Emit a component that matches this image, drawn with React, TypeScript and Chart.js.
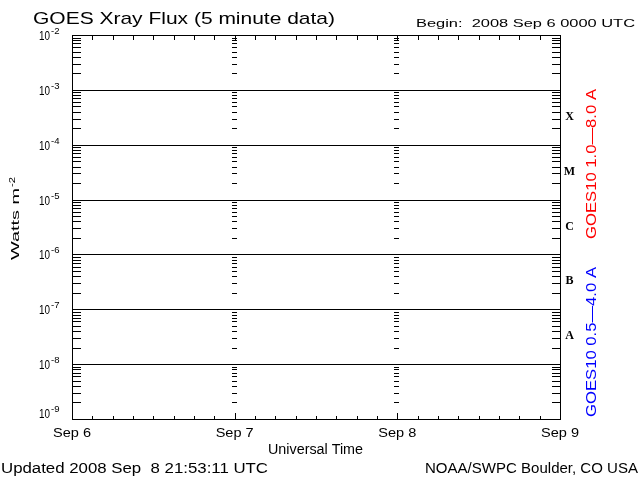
import React, { useEffect, useRef } from "react";
import { Chart, registerables } from "chart.js";

Chart.register(...registerables);

// ---- data ----
const dayLabels = ["Sep 6", "Sep 7", "Sep 8", "Sep 9"];
const dayHours = [0, 24, 48, 72];
const minorHourStep = 3;
const decadeExponents = [-9, -8, -7, -6, -5, -4, -3, -2];
const gridExponents = [-8, -7, -6, -5, -4, -3];
const classLetters = ["A", "B", "C", "M", "X"];
const classExponents = [-7.5, -6.5, -5.5, -4.5, -3.5];
// GOES10 series (no samples visible in the reference for this window)
const goes10Long: { x: number; y: number }[] = [];
const goes10Short: { x: number; y: number }[] = [];

const titleText = "GOES Xray Flux (5 minute data)";
const beginText = "Begin:  2008 Sep 6 0000 UTC";
const xTitleText = "Universal Time";
const updatedText = "Updated 2008 Sep  8 21:53:11 UTC";
const creditText = "NOAA/SWPC Boulder, CO USA";
const longLabel = "GOES10 1.0\u20148.0 A";
const shortLabel = "GOES10 0.5\u20144.0 A";

const FONT = '"Liberation Sans", Arial, sans-serif';

function fitText(
  ctx: CanvasRenderingContext2D,
  text: string,
  x: number,
  y: number,
  size: number,
  width: number,
  align: "left" | "center" | "right",
  color = "#000",
  rotate = false,
  font = FONT,
  weight = ""
) {
  ctx.save();
  ctx.font = `${weight ? weight + " " : ""}${size}px ${font}`;
  ctx.fillStyle = color;
  ctx.textAlign = "left";
  ctx.textBaseline = "alphabetic";
  const w = ctx.measureText(text).width;
  const sx = width > 0 ? width / w : 1;
  ctx.translate(x, y);
  if (rotate) ctx.rotate(-Math.PI / 2);
  ctx.scale(sx, 1);
  const ox = align === "left" ? 0 : align === "center" ? -w / 2 : -w;
  ctx.fillText(text, ox, 0);
  ctx.restore();
}

const framePlugin = {
  id: "goesFrame",
  afterDraw(chart: any) {
    const ctx: CanvasRenderingContext2D = chart.ctx;
    const xs = chart.scales.x;
    const ys = chart.scales.y;
    const { left, right, top, bottom } = chart.chartArea;
    const L = Math.round(left);
    const R = Math.round(right);
    const T = Math.round(top);
    const B = Math.round(bottom);
    ctx.save();
    ctx.fillStyle = "#000";

    // frame
    ctx.fillRect(L, T, R - L + 1, 1);
    ctx.fillRect(L, B, R - L + 1, 1);
    ctx.fillRect(L, T, 1, B - T + 1);
    ctx.fillRect(R, T, 1, B - T + 1);

    // decade grid lines
    gridExponents.forEach((e) => {
      const y = Math.round(ys.getPixelForValue(Math.pow(10, e)));
      ctx.fillRect(L, y, R - L + 1, 1);
    });

    // minor log ticks: left, right, and at interior day boundaries
    const interiorDays = dayHours.slice(1, -1).map((h) => Math.round(xs.getPixelForValue(h)));
    for (let e = -9; e < -2; e++) {
      for (let m = 2; m <= 9; m++) {
        const y = Math.round(ys.getPixelForValue(m * Math.pow(10, e)));
        ctx.fillRect(L + 1, y, 8, 1);
        ctx.fillRect(R - 8, y, 8, 1);
        interiorDays.forEach((x) => ctx.fillRect(x - 3, y, 5, 1));
      }
    }

    // time ticks
    for (let h = minorHourStep; h < 72; h += minorHourStep) {
      const x = Math.round(xs.getPixelForValue(h));
      const major = h % 24 === 0;
      if (major) {
        ctx.fillRect(x, B - 6, 1, 6);
        ctx.fillRect(x, T + 1, 1, 5);
      } else {
        ctx.fillRect(x, B - 3, 1, 3);
        ctx.fillRect(x, T + 1, 1, 4);
      }
    }

    // y tick labels 10^n
    decadeExponents.forEach((e) => {
      const y = Math.round(ys.getPixelForValue(Math.pow(10, e)));
      const base = e === -9 ? y - 1 : y + 5;
      fitText(ctx, "10", 39, base, 13, 11, "left");
      fitText(ctx, String(e), 51, base - 6.5, 9, 8.5, "left");
    });

    // x tick labels
    dayLabels.forEach((lab, i) => {
      const x = xs.getPixelForValue(dayHours[i]);
      fitText(ctx, lab, x, 437, 13, 38, "center");
    });

    // class letters
    classLetters.forEach((c, i) => {
      const y = ys.getPixelForValue(Math.pow(10, classExponents[i]));
      ctx.save();
      ctx.font = 'bold 12px "Liberation Serif", serif';
      ctx.textAlign = "center";
      ctx.textBaseline = "alphabetic";
      ctx.fillStyle = "#000";
      ctx.fillText(c, 569.5, y + 2.5);
      ctx.restore();
    });

    // titles and texts
    fitText(ctx, titleText, 33, 24, 17, 302, "left");
    fitText(ctx, beginText, 416, 27, 11.5, 219, "left");
    fitText(ctx, xTitleText, 268, 454, 14, 95, "left");
    fitText(ctx, updatedText, 1, 473, 14, 267, "left");
    fitText(ctx, creditText, 425, 473, 14, 213, "left");

    // y axis title (rotated)
    fitText(ctx, "Watts m", 18.5, 260, 11.5, 72, "left", "#000", true);
    fitText(ctx, "-2", 15, 187, 9, 10, "left", "#000", true);

    // series labels (rotated)
    fitText(ctx, longLabel, 596, 239, 15, 150, "left", "#ff0000", true);
    fitText(ctx, shortLabel, 596, 417, 15, 150, "left", "#0000ff", true);

    ctx.restore();
  },
};

export default function App() {
  const ref = useRef<HTMLCanvasElement | null>(null);
  useEffect(() => {
    const canvas = ref.current;
    if (!canvas) return;
    const chart = new Chart(canvas, {
      type: "line",
      data: {
        datasets: [
          {
            label: longLabel,
            data: goes10Long,
            borderColor: "#ff0000",
            borderWidth: 1,
            pointRadius: 0,
          },
          {
            label: shortLabel,
            data: goes10Short,
            borderColor: "#0000ff",
            borderWidth: 1,
            pointRadius: 0,
          },
        ],
      },
      options: {
        animation: false,
        responsive: false,
        devicePixelRatio: 1,
        layout: { padding: { left: 72, right: 80, top: 35, bottom: 61 } },
        plugins: {
          legend: { display: false },
          title: { display: false },
          tooltip: { enabled: false },
        },
        scales: {
          x: { type: "linear", min: 0, max: 72, display: false },
          y: { type: "logarithmic", min: 1e-9, max: 1e-2, display: false },
        },
      },
      plugins: [framePlugin],
    });
    return () => chart.destroy();
  }, []);
  return (
    <div style={{ position: "absolute", left: 0, top: 0, width: 640, height: 480, background: "#fff" }}>
      <canvas ref={ref} width={640} height={480} style={{ display: "block", width: 640, height: 480 }} />
    </div>
  );
}
